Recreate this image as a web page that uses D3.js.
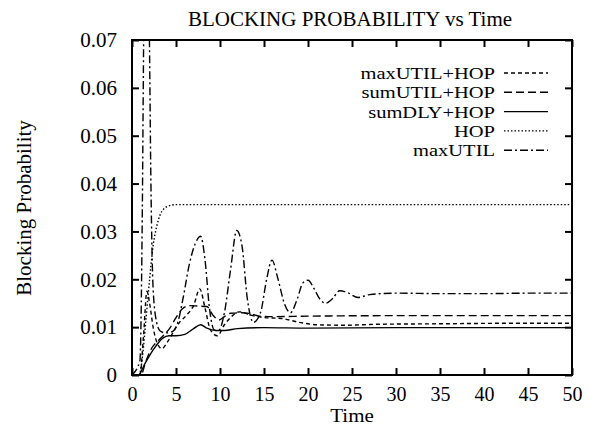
<!DOCTYPE html>
<html>
<head>
<meta charset="utf-8">
<script src="https://cdn.jsdelivr.net/npm/d3@7"></script>
<style>
body { margin: 0; background: #fff; }
svg text { font-family: "Liberation Serif", "Times New Roman", serif; fill: #000; }
</style>
</head>
<body>
<svg id="chart" width="590" height="426"></svg>
<script>
// tick values
var xTicks = [0, 5, 10, 15, 20, 25, 30, 35, 40, 45, 50];
var yTicks = [0, 0.01, 0.02, 0.03, 0.04, 0.05, 0.06, 0.07];

// maxUTIL+HOP
var mhTime = [0, 0.9, 1.3, 1.7, 2.0, 2.4, 2.9, 3.4, 4.0, 4.7, 5.4, 6.2, 7.0, 7.7, 8.3, 8.9, 9.7, 10.5, 11.3, 12.2, 13.5, 15, 17, 19, 21, 24, 28, 35, 42, 50];
var mhProb = [0, 0, 0.008, 0.0175, 0.015, 0.010, 0.0065, 0.0055, 0.0068, 0.009, 0.011, 0.0125, 0.0145, 0.018, 0.014, 0.0095, 0.0082, 0.0105, 0.0122, 0.0132, 0.0125, 0.012, 0.0118, 0.011, 0.0105, 0.0104, 0.0106, 0.0107, 0.0108, 0.0108];

// sumUTIL+HOP
var shTime = [0, 1.0, 1.6, 2.3, 3.0, 3.7, 4.3, 5.0, 5.7, 6.5, 7.5, 8.5, 9.2, 9.9, 10.5, 11.2, 12.5, 13.5, 14.5, 16, 20, 30, 40, 50];
var shProb = [0, 0, 0.003, 0.0058, 0.0072, 0.0085, 0.0098, 0.012, 0.0138, 0.0145, 0.0144, 0.0143, 0.0125, 0.0115, 0.0122, 0.0129, 0.013, 0.0128, 0.0123, 0.0122, 0.0123, 0.0124, 0.0124, 0.0124];

// sumDLY+HOP
var sdTime = [0, 0.7, 1.5, 2.5, 3.5, 4.2, 5, 6, 7, 7.8, 8.5, 9.5, 10.5, 12, 15, 20, 30, 40, 50];
var sdProb = [0, 0, 0.0025, 0.0055, 0.0077, 0.0082, 0.0082, 0.0085, 0.0097, 0.0105, 0.0098, 0.0093, 0.0093, 0.0097, 0.0099, 0.0098, 0.0099, 0.0099, 0.0099];

// HOP
var hopTime = [0, 0.8, 1.2, 1.6, 2.0, 2.4, 2.8, 3.2, 3.6, 4.0, 4.5, 5, 6, 10, 20, 30, 40, 50];
var hopProb = [0, 0, 0.004, 0.012, 0.020, 0.027, 0.031, 0.0335, 0.0347, 0.0352, 0.0355, 0.0356, 0.0356, 0.0356, 0.0356, 0.0356, 0.0356, 0.0356];

// maxUTIL
var muTime = [0, 0.9, 1.15, 1.35, 1.65, 1.95, 2.15, 2.4, 2.8, 3.2, 3.8, 4.5, 5.2, 5.8, 6.5, 7.2, 7.8, 8.3, 8.8, 9.3, 9.8, 10.5, 11.2, 11.9, 12.5, 13.1, 13.8, 14.6, 15.3, 15.9, 16.6, 17.3, 18.0, 18.8, 19.4, 20.0, 20.7, 21.3, 22.0, 22.8, 23.6, 24.5, 25.7, 27, 30, 35, 40, 45, 50];
var muProb = [0, 0.003, 0.03, 0.075, 0.1, 0.075, 0.04, 0.018, 0.011, 0.0092, 0.0088, 0.009, 0.011, 0.016, 0.023, 0.0275, 0.029, 0.024, 0.014, 0.0095, 0.0092, 0.013, 0.022, 0.0302, 0.027, 0.016, 0.011, 0.013, 0.020, 0.024, 0.020, 0.015, 0.013, 0.016, 0.0192, 0.0198, 0.018, 0.016, 0.015, 0.016, 0.0176, 0.0172, 0.0162, 0.0168, 0.0171, 0.017, 0.017, 0.0171, 0.0171];

var seriesNames = ["maxUTIL+HOP", "sumUTIL+HOP", "sumDLY+HOP", "HOP", "maxUTIL"];
var seriesTimes = [mhTime, shTime, sdTime, hopTime, muTime];
var seriesProbs = [mhProb, shProb, sdProb, hopProb, muProb];

d3.select(window).on('load', init);

// draw text small (so boxes don't collide) but stretch it to the width it would have at a larger size
function squeeze(sel, bigSize, smallSize) {
    sel.style('font-size', bigSize + 'px');
    sel.each(function(){
        var w = this.getComputedTextLength();
        d3.select(this)
            .style('font-size', smallSize + 'px')
            .attr('textLength', w)
            .attr('lengthAdjust', 'spacingAndGlyphs');
    });
}

function init() {
    var svg = d3.select('#chart');
    var left = 132, right = 572, top = 40, bottom = 375;
    var dashes = ["4,3", "8,4", null, "1.5,2", "8,3,2,3"];

    var xScale = d3.scaleLinear()
        .domain([0, 50])
        .range([left, right]);

    var yScale = d3.scaleLinear()
        .domain([0, 0.07])
        .range([bottom, top]);

    svg.append('defs')
        .append('clipPath')
        .attr('id', 'plotclip')
        .append('rect')
        .attr('x', left)
        .attr('y', top)
        .attr('width', right - left)
        .attr('height', bottom - top);

    // axes with inward ticks on all four sides
    var xAxis = d3.axisBottom(xScale).tickValues(xTicks).tickSize(-7).tickSizeOuter(0).tickPadding(12).tickFormat(d3.format('d'));
    var yAxis = d3.axisLeft(yScale).tickValues(yTicks).tickSize(-7).tickSizeOuter(0).tickPadding(15)
        .tickFormat(function(d){ return d === 0 ? '0' : d3.format('.2f')(d); });
    var xTop = d3.axisTop(xScale).tickValues(xTicks).tickSize(-7).tickSizeOuter(0).tickFormat('');
    var yRight = d3.axisRight(yScale).tickValues(yTicks).tickSize(-7).tickSizeOuter(0).tickFormat('');

    var gx = svg.append('g')
        .attr('class', 'axis x')
        .attr('transform', 'translate(0,' + bottom + ')')
        .call(xAxis);
    var gy = svg.append('g')
        .attr('class', 'axis y')
        .attr('transform', 'translate(' + left + ',0)')
        .call(yAxis);
    svg.append('g')
        .attr('class', 'axis')
        .attr('transform', 'translate(0,' + top + ')')
        .call(xTop);
    svg.append('g')
        .attr('class', 'axis')
        .attr('transform', 'translate(' + right + ',0)')
        .call(yRight);

    svg.selectAll('.axis line').attr('stroke', '#000').attr('stroke-width', 2);
    svg.selectAll('.axis path').attr('stroke', 'none');
    svg.selectAll('.axis').attr('font-family', '"Liberation Serif", serif');
    gx.attr('font-size', 20);
    gy.attr('font-size', 21);
    svg.selectAll('.axis text').attr('fill', '#000');

    svg.append('rect')
        .attr('x', left)
        .attr('y', top)
        .attr('width', right - left)
        .attr('height', bottom - top)
        .attr('fill', 'none')
        .attr('stroke', '#000')
        .attr('stroke-width', 2);

    var line = d3.line()
        .x(function(d){ return xScale(d[0]); })
        .y(function(d){ return yScale(d[1]); })
        .curve(d3.curveMonotoneX);

    var series = seriesNames.map(function(name, i){
        return {
            name: name,
            dash: dashes[i],
            points: seriesTimes[i].map(function(t, j){ return [t, seriesProbs[i][j]]; })
        };
    });

    svg.append('g')
        .attr('clip-path', 'url(#plotclip)')
        .selectAll('path')
        .data(series)
        .enter()
        .append('path')
        .attr('d', function(d){ return line(d.points); })
        .attr('fill', 'none')
        .attr('stroke', '#000')
        .attr('stroke-width', 1.4)
        .attr('stroke-dasharray', function(d){ return d.dash; });

    // legend
    var legend = svg.append('g')
        .selectAll('g')
        .data(series)
        .enter()
        .append('g')
        .attr('transform', function(d, i){ return 'translate(0,' + (73 + i * 19.3) + ')'; });

    legend.append('text')
        .attr('x', 495)
        .attr('dy', '0.35em')
        .attr('text-anchor', 'end')
        .text(function(d){ return d.name; })
        .call(squeeze, 20.5, 17);

    legend.append('line')
        .attr('x1', 504)
        .attr('x2', 548)
        .attr('stroke', '#000')
        .attr('stroke-width', 1.4)
        .attr('stroke-dasharray', function(d){ return d.dash; });

    svg.append('text')
        .attr('x', 350)
        .attr('y', 26)
        .attr('text-anchor', 'middle')
        .style('font-size', '21px')
        .text('BLOCKING PROBABILITY vs Time');

    svg.append('text')
        .attr('x', 352)
        .attr('y', 422)
        .attr('text-anchor', 'middle')
        .text('Time')
        .call(squeeze, 21, 18);

    svg.append('text')
        .attr('transform', 'translate(31,208) rotate(-90)')
        .attr('text-anchor', 'middle')
        .style('font-size', '21px')
        .text('Blocking Probability');
}
</script>
</body>
</html>
